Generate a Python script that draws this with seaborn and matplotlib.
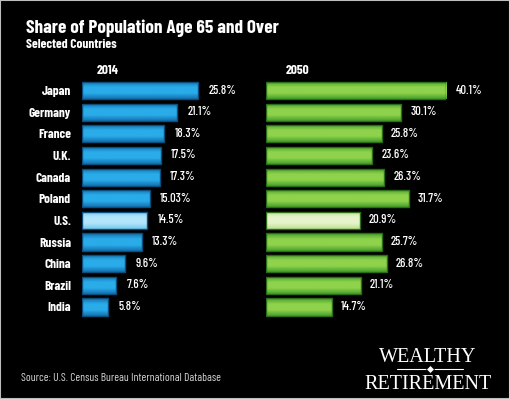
import matplotlib
matplotlib.use("Agg")
import numpy as np
import matplotlib.pyplot as plt
from matplotlib.colors import LinearSegmentedColormap, to_rgb
import seaborn as sns
import pandas as pd

# ---- data ----
countries = ["Japan", "Germany", "France", "U.K.", "Canada", "Poland",
             "U.S.", "Russia", "China", "Brazil", "India"]
share_2014 = [25.8, 21.1, 18.3, 17.5, 17.3, 15.03, 14.5, 13.3, 9.6, 7.6, 5.8]
share_2050 = [40.1, 30.1, 25.8, 23.6, 26.3, 31.7, 20.9, 25.7, 26.8, 21.1, 14.7]
highlight = "U.S."

title = "Share of Population Age 65 and Over"
subtitle = "Selected Countries"
source = "Source: U.S. Census Bureau International Database"

sns.set_theme(style="dark")
plt.rcParams["font.family"] = ["Barlow Condensed", "DejaVu Sans"]

W, H = 510, 399
fig = plt.figure(figsize=(W / 100, H / 100), dpi=100, facecolor="black")


def box(x0, y0, x1, y1):
    # pixel box (from top-left) -> figure fraction rect
    return [x0 / W, 1 - y1 / H, (x1 - x0) / W, (y1 - y0) / H]


def shade(ax, patch, dark, light):
    # vertical gradient (dark edges, light middle) clipped to a bar
    x, y = patch.get_x(), patch.get_y()
    w, h = patch.get_width(), patch.get_height()
    cmap = LinearSegmentedColormap.from_list("g", [dark, light, light, dark])
    grad = np.linspace(0, 1, 64).reshape(-1, 1)
    im = ax.imshow(grad, cmap=cmap, aspect="auto", extent=(x, x + w, y + h, y),
                   zorder=2, interpolation="bilinear")
    im.set_clip_path(patch)
    patch.set_facecolor("none")
    patch.set_zorder(3)


df = pd.DataFrame({"country": countries, "y2014": share_2014, "y2050": share_2050})

panels = [
    ("y2014", "2014", 82, 108, ("#1470b0", "#2aace9"), ("#74c9ef", "#b3e6fb"), "#0b4f7c", 2.3),
    ("y2050", "2050", 266, 297, ("#45a02a", "#8fd24c"), ("#bfe090", "#e6f4cc"), "#2b6e17", 2.0),
]

for i, (col, year, x0, yx, main, light, edge, gap) in enumerate(panels):
    ax = fig.add_axes(box(x0, 79.7, x0 + 180, 317.8))
    ax.set_facecolor("black")
    pal = {c: (light[1] if c == highlight else main[1]) for c in countries}
    sns.barplot(data=df, y="country", x=col, hue="country", palette=pal,
                legend=False, width=0.79, edgecolor=edge, linewidth=1.0,
                saturation=1, ax=ax, orient="h")
    for c, p in zip(countries, ax.patches):
        d, l = light if c == highlight else main
        shade(ax, p, d, l)
    ax.set_xlim(0, 40)
    ax.set_ylim(10.5, -0.5)
    ax.set_xlabel("")
    ax.set_ylabel("")
    ax.set_xticks([])
    ax.grid(False)
    for s in ax.spines.values():
        s.set_visible(False)
    if i == 0:
        ax.tick_params(axis="y", length=0, pad=8)
        for t in ax.get_yticklabels():
            t.set_color("white")
            t.set_fontsize(9.5)
            t.set_fontweight("bold")
    else:
        ax.set_yticks([])
    for k, v in enumerate(df[col]):
        ax.text(v + gap, k, f"{v}%", color="white", fontsize=9,
                fontweight="medium", va="center", ha="left", clip_on=False)
    fig.text(yx / W, 1 - 74 / H, year, color="white", fontsize=9.5,
             fontweight="bold", ha="center", va="baseline")

fig.text(26 / W, 1 - 33 / H, title, color="white", fontsize=13.8,
         fontweight="bold", ha="left", va="baseline")
fig.text(26 / W, 1 - 48 / H, subtitle, color="white", fontsize=9.6,
         fontweight="bold", ha="left", va="baseline")
fig.text(21 / W, 1 - 381 / H, source, color="#d8d8d8", fontsize=8.3,
         ha="left", va="baseline")

# logo
serif = ["Liberation Serif", "DejaVu Serif"]
fig.text(428 / W, 1 - 362.5 / H, "WEALTHY", color="white", fontsize=14.5,
         family=serif, ha="center", va="baseline")
fig.text(428 / W, 1 - 389 / H, "RETIREMENT", color="white", fontsize=14.5,
         family=serif, ha="center", va="baseline")
fig.add_artist(plt.Line2D([397 / W, 463 / W], [1 - 369 / H, 1 - 369 / H],
                          color="white", lw=0.8))
fig.add_artist(plt.Line2D([430 / W], [1 - 369 / H], marker="D", ms=4,
                          color="white", mec="black", mew=0.5))

# thin border
fig.add_artist(plt.Rectangle((0, 0), 1, 1, transform=fig.transFigure,
                             fill=False, ec="#bdbdbd", lw=1.5))

fig.savefig("out.png", dpi=100, facecolor="black")
